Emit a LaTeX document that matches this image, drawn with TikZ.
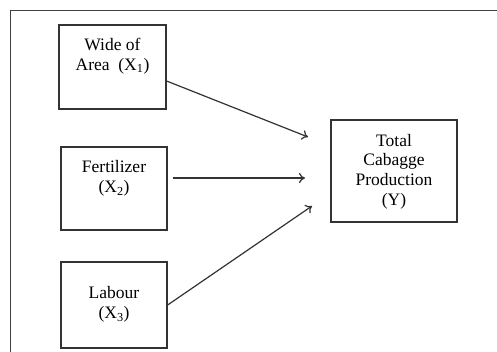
\documentclass[tikz,border=0pt]{standalone}
\usepackage{fontspec}
\setmainfont{Liberation Serif}
\usetikzlibrary{arrows.meta}
\begin{document}
\begin{tikzpicture}[x=1pt,y=-1pt,
  box/.style={draw=black!80, line width=1.2pt, inner sep=0pt},
  txt/.style={align=center, font=\fontsize{17.5}{19.8}\selectfont, text=black, inner sep=0pt},
  conn/.style={draw=black!80, line width=1.2pt, -{To[length=6pt,width=10pt]}}]
\useasboundingbox (0,0) rectangle (497,351);
\fill[white] (0,0) rectangle (497,351);
% outer frame
\coordinate (fa) at (10,352);
\coordinate (fb) at (10,10);
\coordinate (fc) at (498,10);
\draw[draw=black!75, line width=1pt] (fa) -- (fb) -- (fc);
% boxes
\node[box, minimum width=107pt, minimum height=84pt] (b1) at (112.5,67) {};
\node[box, minimum width=106pt, minimum height=83pt] (b2) at (114,188.5) {};
\node[box, minimum width=106pt, minimum height=86pt] (b3) at (114,305) {};
\node[box, minimum width=126pt, minimum height=102pt] (by) at (394,171) {};
% texts
\node[txt] (t1) at (112.5,56) {Wide of\\Area\ \ (X\textsubscript{1})};
\node[txt] (t2) at (114,178.5) {Fertilizer\\(X\textsubscript{2})};
\node[txt] (t3) at (114,304.5) {Labour\\(X\textsubscript{3})};
\node[txt] (ty) at (394,171.5) {Total\\Cabagge\\Production\\(Y)};
% arrow ends
\coordinate (e1) at (308,137);
\coordinate (e2) at (305,178);
\coordinate (e3) at (312,206);
\draw[conn] ([yshift=-14pt]b1.east) -- (e1);
\draw[conn] ([xshift=5pt,yshift=10.5pt]b2.east) -- (e2);
\draw[conn] (b3.east) -- (e3);
\end{tikzpicture}
\end{document}
